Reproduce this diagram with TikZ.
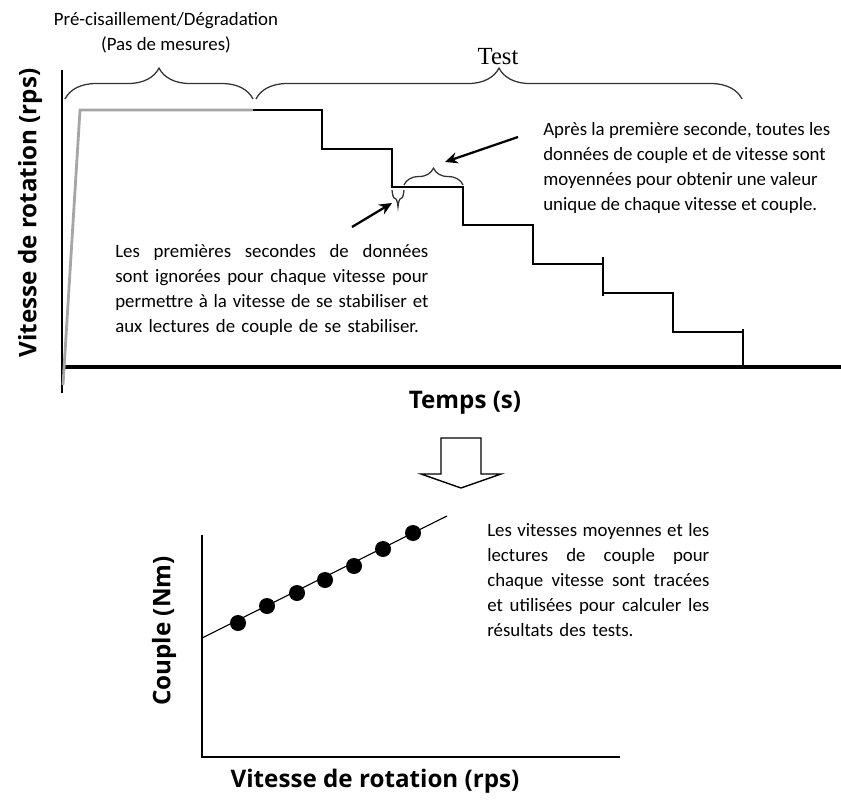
\documentclass[tikz,border=0pt]{standalone}
\usepackage{fontspec}
\setmainfont{Carlito}
\newfontfamily\labelfont{Open Sans}
\newfontfamily\testfont{Liberation Serif}
\usetikzlibrary{decorations.pathreplacing,arrows.meta}
\newcommand{\jline}[2]{\leavevmode\hbox to #1{\spaceskip=0.23em plus 1fil\relax #2}}
\begin{document}
\begin{tikzpicture}[x=0.025cm,y=-0.025cm,>={Stealth[length=9pt,width=8pt]},
    txt/.style={font=\fontsize{13.4}{17.7}\selectfont,inner sep=0pt},
    axlbl/.style={font=\labelfont\bfseries\fontsize{17.2}{20}\selectfont,inner sep=0pt},
    brc/.style={decorate,decoration={brace,amplitude=#1},draw=black!80,line width=0.9pt},
    pointer/.style={->,line width=1.6pt}]
\useasboundingbox (0,0) rectangle (841,807);
\draw[line width=2pt] (62,70) -- (62,393);
\draw[line width=2.8pt] (62,367) -- (841,367);
\node[axlbl,rotate=90] (vlbl) at (30,213) {Vitesse de rotation (rps)};
\node[axlbl] (tlbl) at (465,403) {Temps (s)};
\draw[gray!70,line width=2pt] (63,385) -- (80,110) -- (253,110);
\draw[line width=1pt] (253,110) -- (322,110) -- (322,149) -- (392,149) -- (392,187) -- (463,187) -- (463,225)
    -- (533,225) -- (533,264) -- (603,264) -- (603,293) -- (673,293) -- (673,332) -- (743,332) -- (743,368);
\draw[line width=1pt] (603,257) -- (603,296) (743,329) -- (743,368);
\draw[brc=22pt] (65,99) -- (253,99);
\draw[brc=22pt] (256,99) -- (742,99);
\node[txt,align=center] (pre) at (166,33) {Pré-cisaillement/Dégradation\\(Pas de mesures)};
\node[inner sep=0pt,font=\testfont\fontsize{17.5}{20}\selectfont] (test) at (498,57) {Test};
\draw[brc=12pt] (404,185) -- (463,185);
\draw[brc=12pt] (404,190) -- (392,190);
\coordinate (avg) at (445,162);
\coordinate (avgtail) at (518,137);
\coordinate (skip) at (392,203);
\coordinate (skiptail) at (352,227);
\draw[pointer] (avgtail) -- (avg);
\draw[pointer] (skiptail) -- (skip);
\node[txt,anchor=west,text width=7.825cm,align=left] (skiptxt) at (115,290)
    {\jline{7.825cm}{Les premières secondes de données}\\
     \jline{7.825cm}{sont ignorées pour chaque vitesse pour}\\
     \jline{7.825cm}{permettre à la vitesse de se stabiliser et}\\
     aux lectures de couple de se stabiliser.};
\node[txt,anchor=west,align=left] (avgtxt) at (543,168)
    {Après la première seconde, toutes les\\données de couple et de vitesse sont\\moyennées pour obtenir une valeur\\unique de chaque vitesse et couple.};
\draw[line width=1pt] (441,438) -- (481,438) -- (481,474) -- (501,474) -- (461,488) -- (421,474) -- (441,474) -- cycle;
\draw[line width=2pt] (202,535) -- (202,757) -- (620,757);
\node[axlbl,rotate=90] (clbl) at (164,631) {Couple (Nm)};
\node[axlbl] (rlbl) at (375,781) {Vitesse de rotation (rps)};
\draw[line width=0.8pt] (202,638) -- (447,516);
\foreach \px/\py in {238/623,267/606,297/593,325/580,354/566,383/549,413/533}
    \fill (\px,\py) circle (0.2cm);
\node[txt,anchor=west,text width=5.55cm,align=left] (restxt) at (487,580)
    {\jline{5.55cm}{Les vitesses moyennes et les}\\
     \jline{5.55cm}{lectures de couple pour}\\
     \jline{5.55cm}{chaque vitesse sont tracées}\\
     \jline{5.55cm}{et utilisées pour calculer les}\\
     résultats des tests.};
\end{tikzpicture}
\end{document}
